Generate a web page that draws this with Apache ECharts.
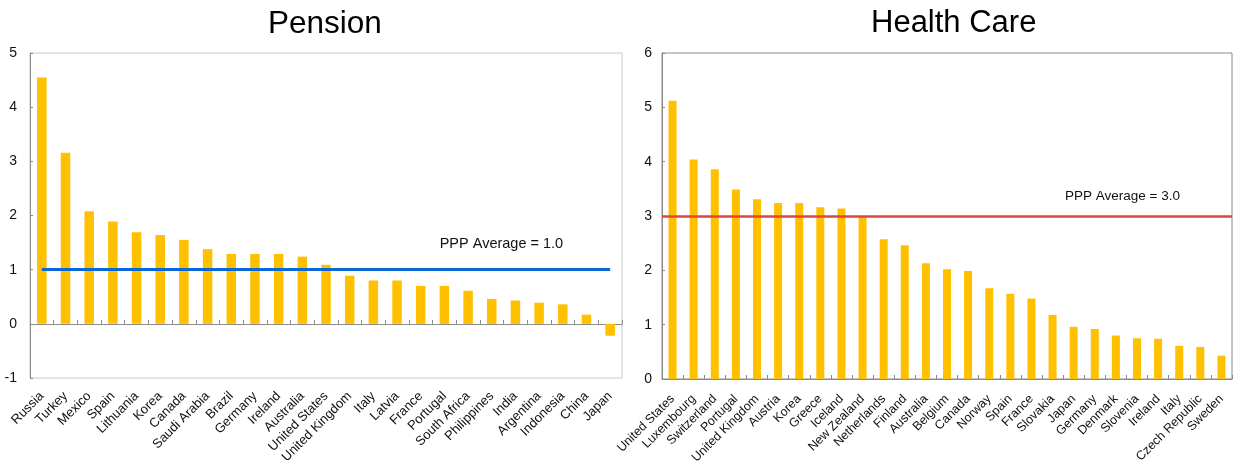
<!DOCTYPE html>
<html>
<head>
<meta charset="utf-8">
<script src="https://cdn.jsdelivr.net/npm/echarts@6/dist/echarts.min.js"></script>
<style>
  html, body { margin: 0; padding: 0; background: #fff; }
  #chart { width: 1233px; height: 472px; }
</style>
</head>
<body>
<div id="chart"></div>
<script>
// Pension panel
const pensionCountries = ['Russia', 'Turkey', 'Mexico', 'Spain', 'Lithuania', 'Korea', 'Canada', 'Saudi Arabia', 'Brazil', 'Germany', 'Ireland', 'Australia', 'United States', 'United Kingdom', 'Italy', 'Latvia', 'France', 'Portugal', 'South Africa', 'Philippines', 'India', 'Argentina', 'Indonesia', 'China', 'Japan'];
const pensionValues = [4.55, 3.16, 2.08, 1.89, 1.69, 1.64, 1.55, 1.38, 1.29, 1.29, 1.29, 1.24, 1.09, 0.89, 0.80, 0.80, 0.70, 0.70, 0.61, 0.46, 0.43, 0.39, 0.36, 0.17, -0.22];
const pensionAverage = 1.0;
const pensionAxis = { min: -1, max: 5, interval: 1 };

// Health care panel
const healthCountries = ['United States', 'Luxembourg', 'Switzerland', 'Portugal', 'United Kingdom', 'Austria', 'Korea', 'Greece', 'Iceland', 'New Zealand', 'Netherlands', 'Finland', 'Australia', 'Belgium', 'Canada', 'Norway', 'Spain', 'France', 'Slovakia', 'Japan', 'Germany', 'Denmark', 'Slovenia', 'Ireland', 'Italy', 'Czech Republic', 'Sweden'];
const healthValues = [5.12, 4.04, 3.86, 3.49, 3.31, 3.24, 3.24, 3.16, 3.14, 2.99, 2.57, 2.46, 2.13, 2.02, 1.99, 1.67, 1.57, 1.48, 1.18, 0.96, 0.92, 0.80, 0.75, 0.74, 0.61, 0.59, 0.43];
const healthAverage = 3.0;
const healthAxis = { min: 0, max: 6, interval: 1 };

const FONT = "'Liberation Sans', Arial, sans-serif";
const BAR = '#FFC000';
const AXIS_GRAY = '#8a8a8a';

const chart = echarts.init(document.getElementById('chart'), null, { renderer: 'canvas' });

chart.setOption({
  animation: false,
  backgroundColor: '#fff',
  title: [
    { text: 'Pension', left: 268, top: 8, padding: 0, textStyle: { fontFamily: FONT, fontSize: 31.5, fontWeight: 'normal', color: '#000' } },
    { text: 'Health Care', left: 871, top: 8, padding: 0, textStyle: { fontFamily: FONT, fontSize: 31, fontWeight: 'normal', color: '#000' } }
  ],
  grid: [
    { left: 30, top: 53, width: 592, height: 325, show: true, borderColor: '#c8c8c8', borderWidth: 1, containLabel: false, outerBoundsMode: 'none' },
    { left: 662, top: 53, width: 570, height: 326, show: true, borderColor: AXIS_GRAY, borderWidth: 1, containLabel: false, outerBoundsMode: 'none' }
  ],
  xAxis: [
    {
      gridIndex: 0, type: 'category', data: pensionCountries,
      axisLine: { show: true, onZero: true, lineStyle: { color: AXIS_GRAY, width: 1 } },
      axisTick: { show: true, inside: true, length: 4, lineStyle: { color: AXIS_GRAY } },
      axisLabel: { rotate: 45, margin: 16, interval: 0, fontFamily: FONT, fontSize: 13, color: '#111' },
      splitLine: { show: false }
    },
    {
      gridIndex: 1, type: 'category', data: healthCountries,
      axisLine: { show: true, onZero: true, lineStyle: { color: AXIS_GRAY, width: 1 } },
      axisTick: { show: true, inside: true, length: 4, lineStyle: { color: AXIS_GRAY } },
      axisLabel: { rotate: 45, margin: 18, interval: 0, fontFamily: FONT, fontSize: 12.5, color: '#111' },
      splitLine: { show: false }
    }
  ],
  yAxis: [
    {
      gridIndex: 0, type: 'value', min: pensionAxis.min, max: pensionAxis.max, interval: pensionAxis.interval,
      axisLine: { show: true, lineStyle: { color: AXIS_GRAY } },
      axisTick: { show: true, inside: true, length: 3, lineStyle: { color: AXIS_GRAY } },
      axisLabel: { margin: 13, fontFamily: FONT, fontSize: 14, color: '#111' },
      splitLine: { show: false }
    },
    {
      gridIndex: 1, type: 'value', min: healthAxis.min, max: healthAxis.max, interval: healthAxis.interval,
      axisLine: { show: true, lineStyle: { color: AXIS_GRAY } },
      axisTick: { show: true, inside: true, length: 3, lineStyle: { color: AXIS_GRAY } },
      axisLabel: { margin: 10, fontFamily: FONT, fontSize: 14, color: '#111' },
      splitLine: { show: false }
    }
  ],
  series: [
    {
      name: 'Pension', type: 'bar', xAxisIndex: 0, yAxisIndex: 0,
      data: pensionValues, barWidth: 9.5,
      itemStyle: { color: BAR },
      markLine: {
        silent: true, symbol: 'none',
        lineStyle: { color: '#0a66d2', width: 3, type: 'solid' },
        label: {
          show: true, position: 'insideEndTop', distance: [47, 18],
          formatter: 'PPP Average = ' + pensionAverage.toFixed(1),
          fontFamily: FONT, fontSize: 14.5, color: '#111'
        },
        data: [[
          { coord: [pensionCountries[0], pensionAverage] },
          { coord: [pensionCountries[pensionCountries.length - 1], pensionAverage] }
        ]]
      }
    },
    {
      name: 'Health Care', type: 'bar', xAxisIndex: 1, yAxisIndex: 1,
      data: healthValues, barWidth: 8,
      itemStyle: { color: BAR },
      markLine: {
        silent: true, symbol: 'none',
        lineStyle: { color: '#dd4444', width: 2.5, type: 'solid' },
        label: {
          show: true, position: 'insideEndTop', distance: [52, 13],
          formatter: 'PPP Average = ' + healthAverage.toFixed(1),
          fontFamily: FONT, fontSize: 13.5, color: '#111'
        },
        data: [{ yAxis: healthAverage }]
      }
    }
  ]
});
</script>
</body>
</html>
